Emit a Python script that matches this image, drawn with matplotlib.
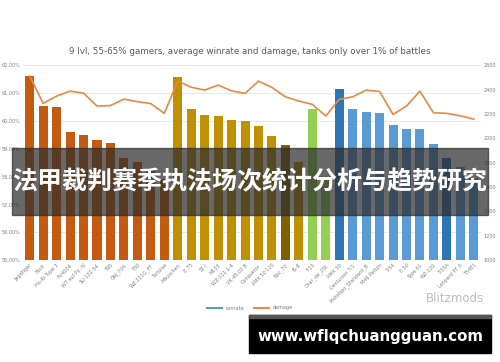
# Winrate vs damage chart with overlaid banners
import matplotlib
matplotlib.use('Agg')
import matplotlib.pyplot as plt
from matplotlib.patches import Rectangle
from matplotlib.lines import Line2D
from matplotlib.ticker import FuncFormatter
import numpy as np

# Tank names (x axis)
tanks = ['Jagdtiger', 'Foch', 'Ho-Ri Type 3', 'FV4004', 'WT auf Pz. IV', 'SU-122-54',
         'T95', 'Obj_704', 'T30', 'WZ-111G_FT', 'Tortoise',
         'Mäuschen', 'E 75', 'ST-I', 'M103', 'WZ-111 1-4', 'VK 45.02 B', 'Conqueror',
         'AMX 50 120', 'Kpz_70', 'IS-8',
         'T-10', 'Char_de_25t',
         'AMX 30', 'Centurion 7/1', 'Prototipo_Standard_B', 'M46 Patton', 'T-54', 'E 50',
         'Type 61', 'WZ-120', 'T-55A', 'Leopard PT A', 'T54E1']

# Average winrate, %
winrate = [61.62, 60.54, 60.48, 59.58, 59.49, 59.30, 59.21, 58.67, 58.53, 58.31, 57.90,
           61.56, 60.44, 60.20, 60.18, 60.02, 59.99, 59.81, 59.45, 59.12, 58.53,
           60.41, 57.90,
           61.14, 60.42, 60.31, 60.27, 59.85, 59.69, 59.69, 59.16, 58.65, 58.35, 57.95]

# Average damage
damage = [2510, 2286, 2346, 2387, 2370, 2264, 2268, 2321, 2300, 2284, 2204,
          2469, 2419, 2395, 2436, 2389, 2368, 2469, 2417, 2340, 2305,
          2278, 2182,
          2319, 2340, 2395, 2384, 2195, 2264, 2387, 2209, 2204, 2184, 2157]

# Bar colour groups
bar_colors = (['#C55A11'] * 11
              + ['#BF9000'] * 8 + ['#7F6000'] + ['#BF9000']
              + ['#92D050'] * 2
              + ['#2E75B6'] + ['#5B9BD5'] * 7 + ['#2E75B6'] + ['#5B9BD5'] * 2)

fig = plt.figure(figsize=(5, 3.62), dpi=100)
ax = fig.add_axes([0.046, 0.282, 0.915, 0.538])
ax2 = ax.twinx()

x = np.arange(len(tanks))
ax.bar(x, winrate, width=0.67, color=bar_colors, zorder=2)
ax.set_xlim(-0.5, len(tanks) - 0.5)
ax.set_ylim(55, 62)
ax.set_yticks(np.arange(55, 62.5, 1))
ax.yaxis.set_major_formatter(FuncFormatter(lambda v, p: f'{v:.2f}%'.replace('.', ',')))
ax.yaxis.grid(True, color='#E4E4E4', lw=0.6)
ax.set_axisbelow(True)

ax2.plot(x, damage, color='#E58A44', lw=1.2)
ax2.set_ylim(1000, 2600)
ax2.set_yticks(np.arange(1000, 2601, 200))

ax.set_xticks(x)
ax.set_xticklabels(tanks, rotation=45, ha='right', rotation_mode='anchor')
for a in (ax, ax2):
    for s in a.spines.values():
        s.set_visible(False)
    a.tick_params(length=0, labelsize=3.5, labelcolor='#7F7F7F', pad=2)

fig.text(0.5, 1 - 52 / 362, '9 lvl, 55-65% gamers, average winrate and damage, tanks only over 1% of battles',
         ha='center', va='center', fontsize=6.3, color='#595959')

fig.legend([Line2D([], [], color='#5B9BD5', lw=1.5), Line2D([], [], color='#E58A44', lw=1.5)],
           ['winrate', 'damage'], loc='center', bbox_to_anchor=(0.5, 1 - 308 / 362),
           ncol=2, frameon=False, fontsize=3.5, handlelength=3, labelcolor='#7F7F7F')

fig.text(455 / 500, 1 - 298 / 362, 'Blitzmods', ha='center', va='center',
         fontsize=8.5, color='#BDBDBD')

# dark translucent banner with Chinese title
fig.patches.append(Rectangle((12 / 500, 1 - 215 / 362), 476 / 500, 67 / 362,
                             transform=fig.transFigure, color='#2E2E2E', alpha=0.72, zorder=5))
fig.text(0.5, 1 - 182 / 362, '法甲裁判赛季执法场次统计分析与趋势研究', ha='center', va='center',
         fontsize=18, color='white', weight='bold',
         family=['Noto Sans CJK SC', 'DejaVu Sans'], zorder=6)

# black url banner at bottom
fig.patches.append(Rectangle((249 / 500, 1 - 353 / 362), 242 / 500, 38 / 362,
                             transform=fig.transFigure, color='black', zorder=5))
fig.patches.append(Rectangle((249 / 500, 1 - 318 / 362), 242 / 500, 3 / 362,
                             transform=fig.transFigure, color='#555555', zorder=6))
fig.text(370 / 500, 1 - 336 / 362, 'www.wflqchuangguan.com', ha='center', va='center',
         fontsize=10.8, color='white', weight='bold', zorder=7)

fig.savefig('out.png', dpi=100)
